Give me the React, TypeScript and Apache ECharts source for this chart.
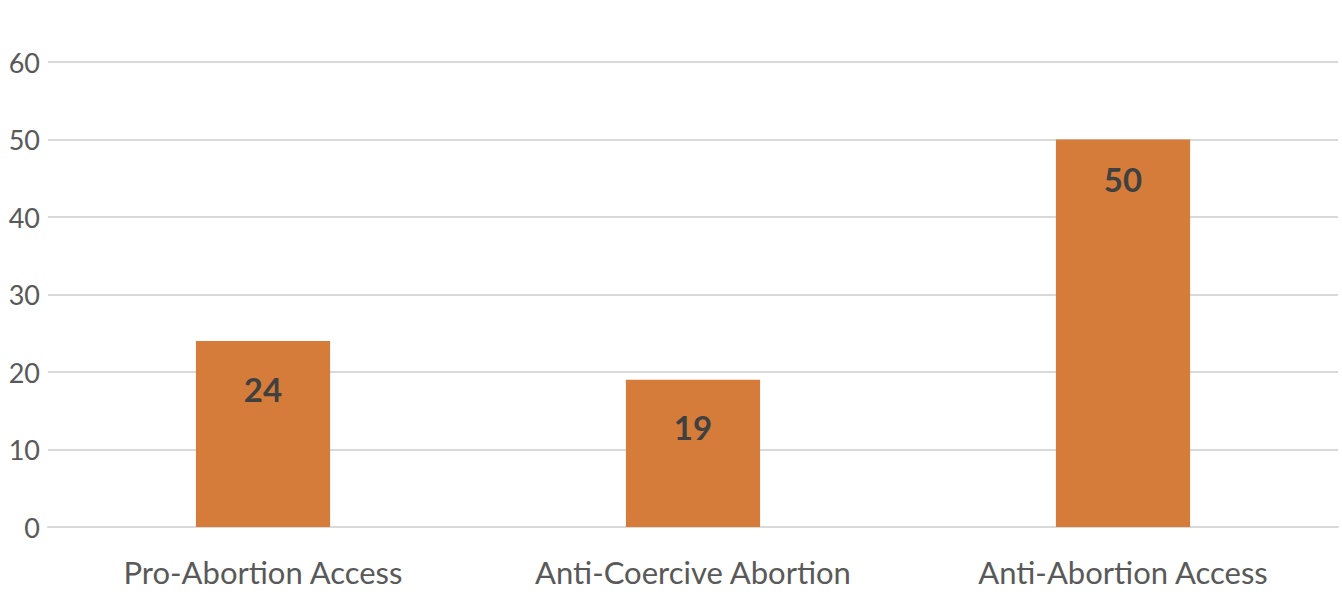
import React, { useEffect, useRef } from "react";
import * as echarts from "echarts";

const categories = ["Pro-Abortion Access", "Anti-Coercive Abortion", "Anti-Abortion Access"];
const values = [24, 19, 50];
const labelDistances = [31, 31, 23];

export default function App() {
  const ref = useRef<HTMLDivElement>(null);
  useEffect(() => {
    if (!ref.current) return;
    const chart = echarts.init(ref.current, null, { renderer: "svg" });
    chart.setOption({
      animation: false,
      grid: { left: 48, right: 4, top: 62, bottom: 65, containLabel: false },
      xAxis: {
        type: "category",
        data: categories,
        axisTick: { show: false },
        axisLine: { lineStyle: { color: "#d9d9d9", width: 2 } },
        axisLabel: { color: "#595959", fontSize: 31, fontFamily: "Lato", margin: 29 },
      },
      yAxis: {
        type: "value",
        min: 0,
        max: 60,
        interval: 10,
        axisLine: { show: false },
        axisTick: { show: false },
        splitLine: { lineStyle: { color: "#d9d9d9", width: 2 } },
        axisLabel: { color: "#595959", fontSize: 27, fontFamily: "Lato", margin: 8 },
      },
      series: [
        {
          type: "bar",
          data: values.map((v, i) => ({ value: v, label: { distance: labelDistances[i] } })),
          barWidth: "31.2%",
          itemStyle: { color: "#d57c3a" },
          label: {
            show: true,
            position: "insideTop",
            color: "#404040",
            fontSize: 33,
            fontWeight: "bold",
            fontFamily: "Lato",
          },
        },
      ],
    });
    return () => chart.dispose();
  }, []);
  return <div ref={ref} style={{ width: 1342, height: 592, position: "absolute", left: 0, top: 0 }} />;
}
